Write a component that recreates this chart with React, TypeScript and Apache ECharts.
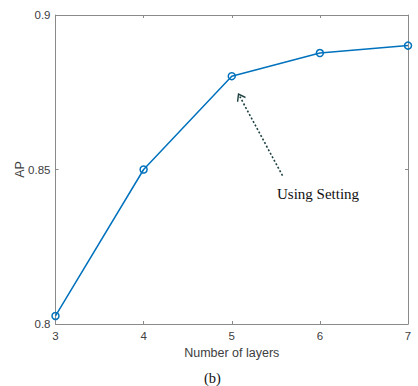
import React, { useEffect, useRef } from "react";
import * as echarts from "echarts";

const layers = [3, 4, 5, 6, 7];
const apValues = [0.8026, 0.85, 0.8802, 0.8877, 0.8901];
const arrowFrom = [5.576, 0.848];
const arrowTo = [5.092, 0.8736];
const annotationText = "Using Setting";
const captionText = "(b)";

export default function App() {
  const ref = useRef<HTMLDivElement>(null);
  useEffect(() => {
    if (!ref.current) return;
    const chart = echarts.init(ref.current, null, { renderer: "svg" });
    const axisColor = "#8a8a8a";
    const labelColor = "#404040";
    const sans = "Liberation Sans";
    const serif = "Liberation Serif";
    chart.setOption({
      animation: false,
      backgroundColor: "#ffffff",
      grid: { left: 55.5, right: 10, top: 15, bottom: 62, containLabel: false },
      xAxis: [
        {
          type: "value",
          min: 3,
          max: 7,
          interval: 1,
          name: "Number of layers",
          nameLocation: "middle",
          nameGap: 21,
          nameTextStyle: { color: labelColor, fontFamily: sans, fontSize: 12.5 },
          axisLine: { show: true, lineStyle: { color: axisColor, width: 1 } },
          axisTick: { show: true, inside: true, length: 3, lineStyle: { color: axisColor } },
          axisLabel: { color: labelColor, fontFamily: sans, fontSize: 11.5, margin: 6 },
          splitLine: { show: false },
        },
        {
          type: "value",
          position: "top",
          min: 3,
          max: 7,
          interval: 1,
          axisLine: { show: true, onZero: false, lineStyle: { color: axisColor, width: 1 } },
          axisTick: { show: true, inside: true, length: 3, lineStyle: { color: axisColor } },
          axisLabel: { show: false },
          splitLine: { show: false },
        },
      ],
      yAxis: [
        {
          type: "value",
          min: 0.8,
          max: 0.9,
          interval: 0.05,
          name: "AP",
          nameLocation: "middle",
          nameGap: 29,
          nameMoveOverlap: false,
          nameTextStyle: { color: labelColor, fontFamily: sans, fontSize: 12.5 },
          axisLine: { show: true, lineStyle: { color: axisColor, width: 1 } },
          axisTick: { show: true, inside: true, length: 3, lineStyle: { color: axisColor } },
          axisLabel: { color: labelColor, fontFamily: sans, fontSize: 11.5, margin: 5 },
          splitLine: { show: false },
        },
        {
          type: "value",
          position: "right",
          min: 0.8,
          max: 0.9,
          interval: 0.05,
          axisLine: { show: true, onZero: false, lineStyle: { color: axisColor, width: 1 } },
          axisTick: { show: true, inside: true, length: 3, lineStyle: { color: axisColor } },
          axisLabel: { show: false },
          splitLine: { show: false },
        },
      ],
      series: [
        {
          type: "line",
          data: layers.map((x, i) => [x, apValues[i]]),
          symbol: "circle",
          symbolSize: 7,
          showAllSymbol: true,
          lineStyle: { color: "#0072BD", width: 1.5 },
          itemStyle: { color: "rgba(255,255,255,0)", borderColor: "#0072BD", borderWidth: 1.5 },
          z: 3,
          markLine: {
            silent: true,
            symbol: ["none", "path://M0,0 L5,7 L4,8 L0,2.4 L-4,8 L-5,7 Z"],
            symbolSize: [10, 8],
            label: { show: false },
            lineStyle: { color: "#1e4040", type: [2, 2], width: 1.6 },
            data: [[{ coord: arrowFrom }, { coord: arrowTo }]],
          },
        },
      ],
      graphic: [
        {
          type: "text",
          left: 277,
          top: 186,
          style: { text: annotationText, fontFamily: serif, fontSize: 15, fill: "#111111" },
        },
        {
          type: "text",
          left: 204,
          top: 370,
          style: { text: captionText, fontFamily: serif, fontSize: 14.5, fill: "#111111" },
        },
      ],
    });
    return () => chart.dispose();
  }, []);
  return (
    <div
      ref={ref}
      style={{ position: "fixed", left: 0, top: 0, width: 418, height: 386 }}
    />
  );
}
